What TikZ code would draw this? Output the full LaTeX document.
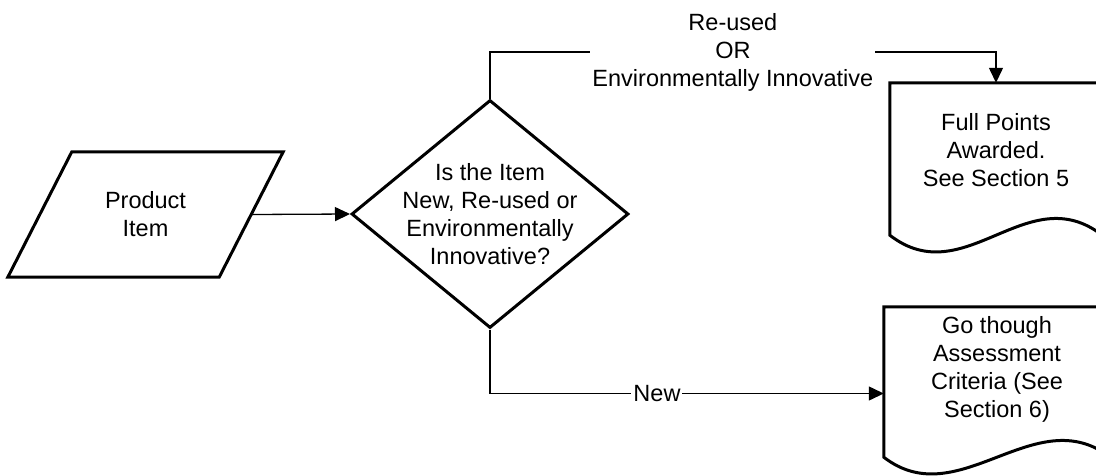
\documentclass[tikz,border=0pt]{standalone}
\usepackage{fontspec}
\setmainfont{Liberation Sans}
\usetikzlibrary{positioning,shapes.geometric,arrows.meta,calc}

% outline of a data (slanted) symbol round a named node
\newcommand{\iooutline}[1]{%
  \draw[shapeline] ([xshift=32]#1.north west) -- ([xshift=32]#1.north east)
    -- ([xshift=-32]#1.south east) -- ([xshift=-32]#1.south west) -- cycle;}
% outline of a document symbol round a named node
\newcommand{\docoutline}[1]{%
  \draw[shapeline] (#1.south west) -- (#1.north west) -- (#1.north east) -- (#1.south east)
    .. controls +(-75,58) and +(75,-58) .. (#1.south west) -- cycle;}

\begin{document}
\begin{tikzpicture}[x=1pt,y=1pt,>={Triangle[length=15pt,width=14pt]}]
  \tikzstyle{every node}=[font=\fontsize{23.5}{28}\selectfont,align=center,inner sep=0]
  \tikzstyle{io}=[rectangle,draw=none,minimum width=211,minimum height=125]
  \tikzstyle{decision}=[diamond,draw,line width=3,minimum width=277,minimum height=228]
  \tikzstyle{doc}=[rectangle,draw=none,minimum width=212,minimum height=152]
  \tikzstyle{shapeline}=[line width=3,line join=miter]
  \tikzstyle{line}=[line width=1.3,->]
  \tikzstyle{note}=[fill=white,inner sep=2]

  \useasboundingbox (0,0) rectangle (1096,-475);

  \node[io] (item) at (145.5,-214.5) {Product\\Item};
  \node[decision] (dec) at (490,-214) {};
  \node (dectext) at (dec.center) {Is the Item\\New, Re-used or\\Environmentally\\Innovative?};

  \node[doc] (full) at (996,-159) {};
  \node (fulltext) at (996,-150) {Full Points\\Awarded.\\See Section 5};
  \node[doc,minimum width=226,minimum height=150] (assess) at (997,-382) {};
  \node (assesstext) at (997,-369) {Go though\\Assessment\\Criteria (See\\Section 6)};

  \iooutline{item}
  \docoutline{full}
  \docoutline{assess}

  \coordinate (up) at (490,-52);
  \coordinate (newbend) at ([yshift=-64]dec.south);

  \draw[line] (item.east) -- (dec.west);
  \draw[line] (dec.north) -- (up) -| node[note,pos=0.24] {Re-used\\OR\\Environmentally Innovative} (full.north);
  \draw[line] (dec.south) |- node[note,pos=0.712] {New} (assess.west |- newbend);
\end{tikzpicture}
\end{document}
